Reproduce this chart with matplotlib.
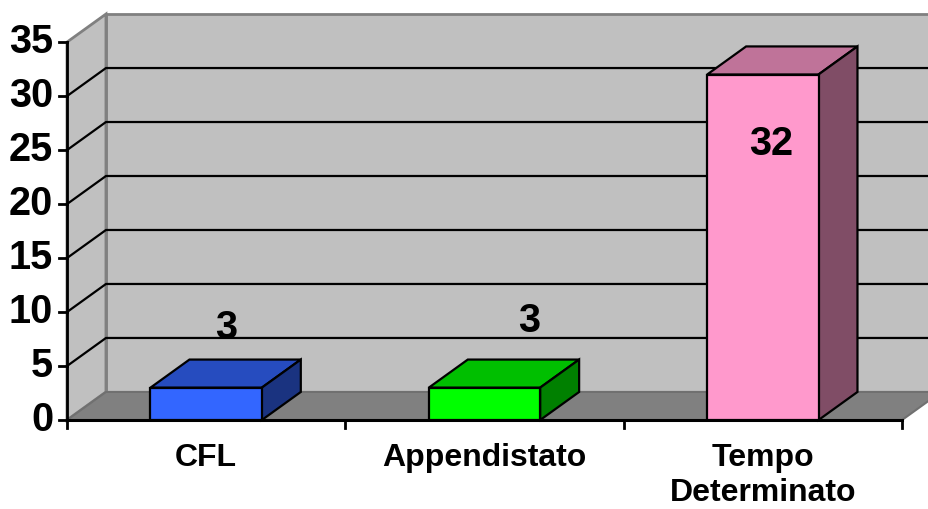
#!/usr/bin/env python3

# Libraries
import matplotlib
matplotlib.use('Agg')
from matplotlib import pyplot as plt
from matplotlib.patches import Polygon

# Data
Categories = ["CFL", "Appendistato", "Tempo\nDeterminato"]
Values = [3, 3, 32]
YTicks = [0, 5, 10, 15, 20, 25, 30, 35]

# Style
FrontColors = ['#3366FF', '#00FF00', '#FF99CC']
TopColors = ['#264CBF', '#00BF00', '#BF7399']
SideColors = ['#1A3380', '#008000', '#804D66']
LabelDX = [0.07, 0.16, 0.03]   # label offsets (category units)
LabelDY = [5.5, 6.2, -6.4]     # label offsets (value units)
DX, DY = 0.14, 2.6             # depth of the 3D box, in data units
YMax = 35
BarWidth = 0.4


def main():
    plt.rcParams['font.family'] = ['Liberation Sans', 'DejaVu Sans']
    fig = plt.figure(figsize=(9.29, 5.09), dpi=100)
    ax = fig.add_axes([0, 0, 1, 1])
    ax.set_xlim(-0.2407, 3.097)
    ax.set_ylim(-8.24, 38.9)
    ax.axis('off')

    n = len(Categories)

    # Walls and floor
    ax.add_patch(Polygon([(DX, DY), (n + DX, DY), (n + DX, YMax + DY), (DX, YMax + DY)],
                         facecolor='#C0C0C0', edgecolor='#808080', lw=2, zorder=1))
    ax.add_patch(Polygon([(0, 0), (DX, DY), (DX, YMax + DY), (0, YMax)],
                         facecolor='#C0C0C0', edgecolor='#808080', lw=2, zorder=1))
    ax.add_patch(Polygon([(0, 0), (n, 0), (n + DX, DY), (DX, DY)],
                         facecolor='#808080', edgecolor='#707070', lw=1.5, zorder=1))

    # Gridlines
    for v in YTicks[1:-1]:
        ax.plot([0, DX, n + DX], [v, v + DY, v + DY], color='black', lw=1.6, zorder=2)

    # Axis lines and ticks
    ax.plot([0, 0], [-0.75, YMax], color='black', lw=2, zorder=3)
    ax.plot([0, n], [0, 0], color='black', lw=2.2, zorder=3)
    for v in YTicks:
        ax.plot([-0.029, 0], [v, v], color='black', lw=2, zorder=3)
        ax.text(-0.05, v, str(v), ha='right', va='center', fontsize=28.5, fontweight='bold')
    for i in range(1, n + 1):
        ax.plot([i, i], [0, -0.75], color='black', lw=2, zorder=3)

    # Bars
    for i, v in enumerate(Values):
        x0 = i + 0.5 - BarWidth / 2
        x1 = i + 0.5 + BarWidth / 2
        ax.add_patch(Polygon([(x0, v), (x1, v), (x1 + DX, v + DY), (x0 + DX, v + DY)],
                             facecolor=TopColors[i], edgecolor='black', lw=1.6, zorder=4))
        ax.add_patch(Polygon([(x1, 0), (x1 + DX, DY), (x1 + DX, v + DY), (x1, v)],
                             facecolor=SideColors[i], edgecolor='black', lw=1.6, zorder=4))
        ax.add_patch(Polygon([(x0, 0), (x1, 0), (x1, v), (x0, v)],
                             facecolor=FrontColors[i], edgecolor='black', lw=1.6, zorder=5))
        ax.text(i + 0.5 + LabelDX[i], v + LabelDY[i], str(v), ha='center', va='center',
                fontsize=28.5, fontweight='bold', zorder=6)
        ax.text(i + 0.5, -2.1, Categories[i], ha='center', va='top', fontsize=23,
                fontweight='bold', linespacing=1.24)

    fig.savefig('out.png', dpi=100)


# Execute main function
if __name__ == '__main__':
    main()
